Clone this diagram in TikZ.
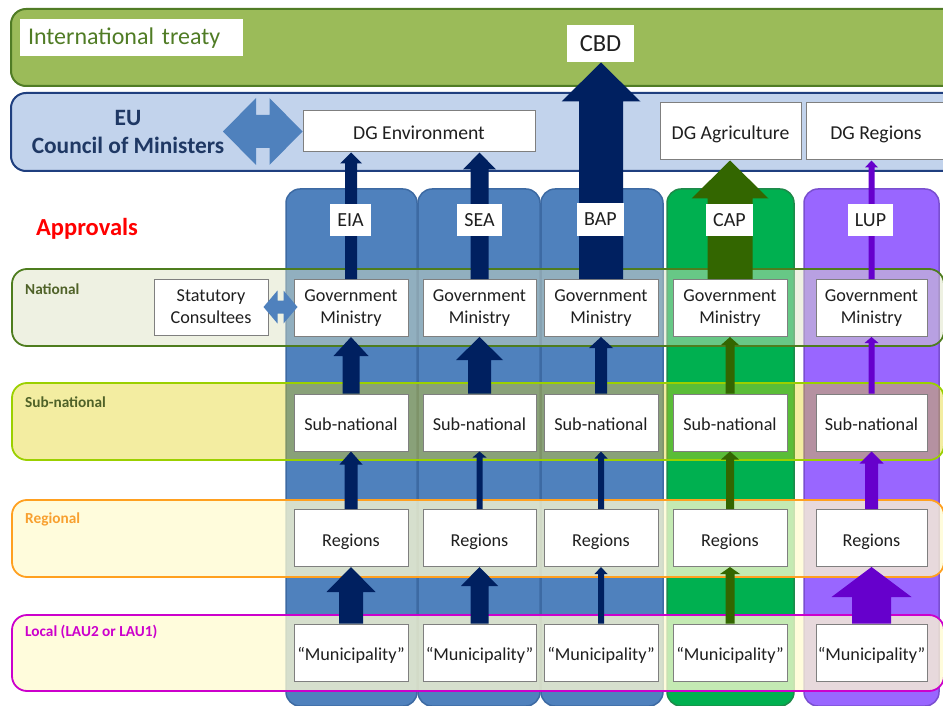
\documentclass[tikz,border=0pt]{standalone}
\usepackage{fontspec}
\setmainfont{Carlito}
\usetikzlibrary{calc}
\definecolor{trgreen}{HTML}{9BBB59}
\definecolor{trgreenb}{HTML}{507C25}
\definecolor{eufill}{HTML}{C2D3EC}
\definecolor{eubord}{HTML}{1F3F7F}
\definecolor{eutext}{HTML}{1F3864}
\definecolor{colblue}{HTML}{4F81BD}
\definecolor{colblueb}{HTML}{3D6AA3}
\definecolor{colgreen}{HTML}{00B050}
\definecolor{colgreenb}{HTML}{1E8A4A}
\definecolor{colpurp}{HTML}{9966FF}
\definecolor{colpurpb}{HTML}{7A4FD0}
\definecolor{navy}{HTML}{002060}
\definecolor{dkgreen}{HTML}{336600}
\definecolor{dkpurp}{HTML}{6600CC}
\definecolor{natfill}{RGB}{220,227,195}
\definecolor{natbord}{HTML}{4E7D1E}
\definecolor{subfill}{RGB}{225,210,20}
\definecolor{subbord}{HTML}{9BD000}
\definecolor{regfill}{RGB}{255,252,210}
\definecolor{regbord}{HTML}{FFA020}
\definecolor{locbord}{HTML}{CC00CC}
\definecolor{labolive}{HTML}{4F6228}
\definecolor{labor}{HTML}{F8A030}
\definecolor{boxgray}{HTML}{7F7F7F}
\definecolor{apprred}{HTML}{FF0000}

% block arrow from #1.north up to #2.south; #3 shaft w, #4 head w, #5 head len, #6 colour
\newcommand{\blockarr}[6]{%
  \fill[#6] let \p1=(#1.north), \p2=(#2.south) in
    ({\x1-#3/2*1pt},\y1) -- ({\x1-#3/2*1pt},{\y2-#5*1pt}) -- ({\x1-#4/2*1pt},{\y2-#5*1pt})
    -- (\x1,\y2) -- ({\x1+#4/2*1pt},{\y2-#5*1pt}) -- ({\x1+#3/2*1pt},{\y2-#5*1pt})
    -- ({\x1+#3/2*1pt},\y1) -- cycle;}
% horizontal double arrow between points #1 and #2; #3 head len, #4 head half h, #5 shaft half h
\newcommand{\dblarr}[5]{%
  \fill[colblue] let \p1=(#1), \p2=(#2) in
    (\x1,\y1) -- ({\x1+#3*1pt},{\y1+#4*1pt}) -- ({\x1+#3*1pt},{\y1+#5*1pt})
    -- ({\x2-#3*1pt},{\y1+#5*1pt}) -- ({\x2-#3*1pt},{\y1+#4*1pt}) -- (\x2,\y1)
    -- ({\x2-#3*1pt},{\y1-#4*1pt}) -- ({\x2-#3*1pt},{\y1-#5*1pt})
    -- ({\x1+#3*1pt},{\y1-#5*1pt}) -- ({\x1+#3*1pt},{\y1-#4*1pt}) -- cycle;}

\begin{document}
\begin{tikzpicture}[x=1pt,y=-1pt,
  band/.style={rounded corners=15pt, line width=2pt},
  colrect/.style={rounded corners=14pt, line width=1.5pt},
  lvl/.style={rounded corners=15pt, line width=1.8pt},
  wbox/.style={draw=boxgray, fill=white, line width=1pt, inner sep=0pt, align=center,
     font=\fontsize{18.2}{22}\selectfont, text=black!88},
  onel/.style={wbox, text height=16pt, text depth=0pt},
  dgbox/.style={wbox, font=\fontsize{19.7}{22}\selectfont, text height=17pt, text depth=0pt},
  clab/.style={fill=white, inner sep=0pt, font=\fontsize{20}{20}\selectfont, text=black!88},
  lvllab/.style={anchor=west, inner sep=0pt, font=\fontsize{15.3}{15}\selectfont\bfseries}
]
\useasboundingbox (0,0) rectangle (943,706);
\clip (0,0) rectangle (943,706);
\fill[white] (0,0) rectangle (943,706);

% top bands
\draw[band, fill=trgreen, draw=trgreenb] (11,9) rectangle (960,86);
\draw[band, fill=eufill, draw=eubord] (11,93) rectangle (960,171);

% columns
\draw[colrect, fill=colblue, draw=colblueb] (286,189) rectangle (417,706);
\draw[colrect, fill=colblue, draw=colblueb] (418,189) rectangle (540,706);
\draw[colrect, fill=colblue, draw=colblueb] (541,189) rectangle (663,706);
\draw[colrect, fill=colgreen, draw=colgreenb] (667,189) rectangle (794,706);
\draw[colrect, fill=colpurp, draw=colpurpb] (804,189) rectangle (939,706);

% level bands
\draw[lvl, fill=natfill, fill opacity=0.47, draw=natbord] (12,269) rectangle (944,346);
\draw[lvl, fill=subfill, fill opacity=0.4, draw=subbord] (12,383) rectangle (944,460);
\draw[lvl, fill=regfill, fill opacity=0.77, draw=regbord] (12,500) rectangle (944,577);
\draw[lvl, fill=regfill, fill opacity=0.77, draw=locbord] (12,615) rectangle (944,691);

% top boxes
\node[wbox, draw=none, text=trgreenb, font=\fontsize{24}{24}\selectfont, text width=207pt,
  align=left, inner xsep=8pt, minimum height=37pt] (treaty) at (131.5,38) {International treaty};
\node[wbox, draw=none, minimum width=67pt, minimum height=37pt, font=\fontsize{24.5}{24}\selectfont] (cbd) at (600.5,43.5) {CBD};
\node[dgbox, minimum width=232pt, minimum height=41pt] (dgenv) at (419,131.5) {DG Environment};
\node[dgbox, minimum width=141pt, minimum height=57pt] (dgagr) at (730.5,131.5) {DG Agriculture};
\node[dgbox, minimum width=140pt, minimum height=57pt] (dgreg) at (876,131.5) {DG Regions};

% level boxes
\node[wbox, minimum width=114pt, minimum height=56pt] (stat) at (211,307) {Statutory\\Consultees};
\foreach \n/\x/\w in {1/351/114, 2/479.5/113, 3/601/114, 4/730/114, 5/871.5/111}{
  \node[wbox, minimum width=\w pt, minimum height=57pt] (min\n) at (\x,308) {Government\\Ministry};
  \node[onel, minimum width=\w pt, minimum height=57pt] (sub\n) at (\x,422.5) {Sub-national};
  \node[onel, minimum width=\w pt, minimum height=57pt] (reg\n) at (\x,538) {Regions};
  \node[onel, minimum width=\w pt, minimum height=57pt] (mun\n) at (\x,652.5) {“Municipality”};
}

% EIA arrows
\blockarr{mun1}{reg1}{24}{49}{25}{navy}
\blockarr{reg1}{sub1}{13}{23}{13}{navy}
\blockarr{sub1}{min1}{17}{35}{19}{navy}
\blockarr{min1}{dgenv}{12}{22}{11}{navy}
% SEA arrows
\blockarr{mun2}{reg2}{18}{37}{19}{navy}
\blockarr{reg2}{sub2}{6}{14}{6}{navy}
\blockarr{sub2}{min2}{23}{47}{23}{navy}
\blockarr{min2}{dgenv}{18}{33}{17}{navy}
% BAP arrows
\blockarr{mun3}{reg3}{6}{13}{7}{navy}
\blockarr{reg3}{sub3}{6}{13}{7}{navy}
\blockarr{sub3}{min3}{12}{24}{11}{navy}
\blockarr{min3}{cbd}{44}{79}{39}{navy}
% CAP arrows
\blockarr{mun4}{reg4}{9}{20}{7}{dkgreen}
\blockarr{reg4}{sub4}{8}{18}{8}{dkgreen}
\blockarr{sub4}{min4}{9}{18}{8}{dkgreen}
\blockarr{min4}{dgagr}{45}{77}{38}{dkgreen}
% LUP arrows
\blockarr{mun5}{reg5}{39}{80}{30}{dkpurp}
\blockarr{reg5}{sub5}{13}{24}{12}{dkpurp}
\blockarr{sub5}{min5}{6}{14}{6}{dkpurp}
\blockarr{min5}{dgreg}{6}{13}{7}{dkpurp}

% column labels
\node[clab, minimum width=41pt, minimum height=31pt] (eia) at (350.5,220) {EIA};
\node[clab, minimum width=45pt, minimum height=31pt] (sea) at (479.5,220) {SEA};
\node[clab, minimum width=47pt, minimum height=32pt] (bap) at (600.5,219.5) {BAP};
\node[clab, minimum width=47pt, minimum height=31pt] (cap) at (729.5,220) {CAP};
\node[clab, minimum width=45pt, minimum height=31pt] (lup) at (870.5,220) {LUP};

% EU label and double arrows
\node[align=center, text=eutext, inner sep=0pt, font=\fontsize{23.4}{28}\selectfont\bfseries] (eu) at (128,131.5) {EU\\Council of Ministers};
\dblarr{223,131.5}{dgenv.west}{33}{33.5}{16.5}
\dblarr{$(stat.east)+(-5,0)$}{$(min1.west)+(4,0)$}{14}{16.5}{6.5}

% other labels
\node[anchor=center, inner sep=0pt, text=apprred, font=\fontsize{24.5}{24}\selectfont\bfseries] (appr) at (87,229) {Approvals};
\node[lvllab, text=labolive] (labnat) at (25,289) {National};
\node[lvllab, text=labolive] (labsub) at (25,402) {Sub-national};
\node[lvllab, text=labor] (labreg) at (25,519) {Regional};
\node[lvllab, text=locbord] (labloc) at (25,632) {Local (LAU2 or LAU1)};
\end{tikzpicture}
\end{document}
